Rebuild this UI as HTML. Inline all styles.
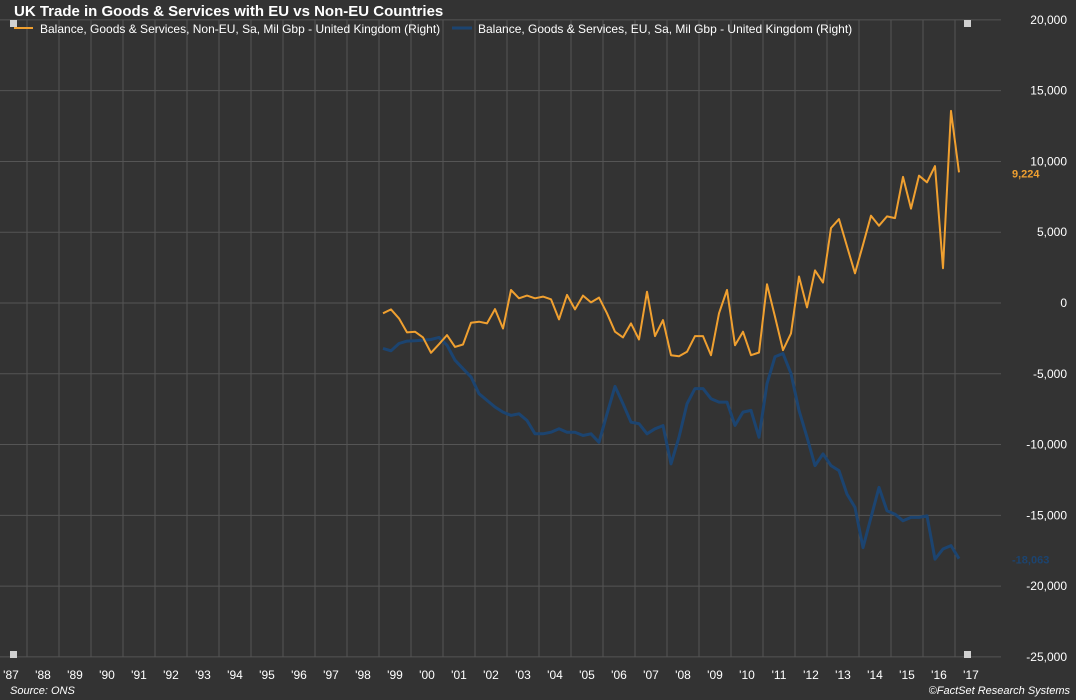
<!DOCTYPE html>
<html><head><meta charset="utf-8"><style>
html,body{margin:0;padding:0;background:#333333;}
svg{display:block;font-family:"Liberation Sans",Arial,sans-serif;}
</style></head><body>
<svg id="chart" width="1076" height="700" viewBox="0 0 1076 700">
<rect x="0" y="0" width="1076" height="700" fill="#333333"/>
<g id="grid"></g>
<g id="series"></g>
<g id="axes"></g>
<text x="14" y="16" fill="#ffffff" font-size="15" font-weight="bold">UK Trade in Goods &amp; Services with EU vs Non-EU Countries</text>
<g>
<g>
<line x1="14" y1="28" x2="33" y2="28" stroke="#f0a030" stroke-width="2"/>
<text x="40" y="33" fill="#ffffff" font-size="12">Balance, Goods &amp; Services, Non-EU, Sa, Mil Gbp - United Kingdom (Right)</text>
</g>
<g>
<line x1="452" y1="28" x2="472" y2="28" stroke="#1c4470" stroke-width="3"/>
<text x="478" y="33" fill="#ffffff" font-size="12">Balance, Goods &amp; Services, EU, Sa, Mil Gbp - United Kingdom (Right)</text>
</g>
</g>
<rect x="10" y="20" width="7" height="7" fill="#d0d0d0"/>
<rect x="964" y="20" width="7" height="7" fill="#d0d0d0"/>
<rect x="964" y="651" width="7" height="7" fill="#d0d0d0"/>
<rect x="10" y="651" width="7" height="7" fill="#d0d0d0"/>
<text x="10" y="694" fill="#ffffff" font-size="11" font-style="italic">Source: ONS</text>
<text x="1070" y="694" fill="#ffffff" font-size="11" font-style="italic" text-anchor="end">©FactSet Research Systems</text>
</svg>
<script>
const years = ["'87","'88","'89","'90","'91","'92","'93","'94","'95","'96","'97","'98","'99","'00","'01","'02","'03","'04","'05","'06","'07","'08","'09","'10","'11","'12","'13","'14","'15","'16","'17"];
const yTicks = [20000,15000,10000,5000,0,-5000,-10000,-15000,-20000,-25000];
const yTickLabels = ["20,000","15,000","10,000","5,000","0","-5,000","-10,000","-15,000","-20,000","-25,000"];
const startYear = 1999;
const nonEU = [-730,-450,-1090,-2080,-2030,-2430,-3520,-2910,-2270,-3100,-2930,-1400,-1320,-1440,-430,-1800,920,330,520,330,450,260,-1160,570,-450,520,40,380,-730,-2030,-2430,-1440,-2580,800,-2340,-1210,-3690,-3760,-3450,-2340,-2340,-3690,-730,920,-2980,-2030,-3690,-3500,1320,-970,-3330,-2150,1870,-310,2300,1440,5300,5930,4000,2100,4110,6170,5460,6120,6000,8910,6670,9000,8530,9670,2460,13570,9224];
const eu = [-3210,-3380,-2860,-2690,-2670,-2620,-2580,-2430,-2980,-4040,-4640,-5220,-6410,-6880,-7350,-7710,-7940,-7830,-8300,-9240,-9240,-9130,-8890,-9130,-9130,-9360,-9240,-9840,-7830,-5890,-7120,-8420,-8530,-9240,-8890,-8660,-11370,-9480,-7120,-6050,-6050,-6760,-7000,-7000,-8650,-7710,-7590,-9480,-5700,-3800,-3570,-4990,-7590,-9480,-11490,-10660,-11490,-11840,-13500,-14440,-17280,-15150,-13030,-14680,-14920,-15390,-15150,-15150,-15040,-18100,-17380,-17140,-18063];
const lastNonEULabel = "9,224";
const lastEULabel = "-18,063";

const NS = "http://www.w3.org/2000/svg";
const X0 = -5, YW = 32, PL = 0, PR = 1001;
const xYear = y => X0 + (y - 1987) * YW;
const xQ = i => xYear(startYear) + (i + 0.5) * YW / 4;
const yV = v => 303 - v * 0.014155;
function mk(tag, attrs, parent){const e=document.createElementNS(NS,tag);for(const k in attrs)e.setAttribute(k,attrs[k]);parent.appendChild(e);return e;}
const grid = document.getElementById('grid'), axes = document.getElementById('axes'), series = document.getElementById('series');
yTicks.forEach((v,i)=>{
  const l = mk('line',{x1:PL,x2:PR,y1:yV(v),y2:yV(v),stroke:'#555555','stroke-width':1},grid);
  
  
  const t = mk('text',{x:1067,y:yV(v)+4,fill:'#ffffff','font-size':12,'text-anchor':'end'},axes);
  t.textContent = yTickLabels[i];
  
  
});
years.forEach((lab,i)=>{
  const gx = xYear(1987+i+1);
  if (i < years.length-1) {
    const l = mk('line',{x1:gx,x2:gx,y1:yV(20000),y2:yV(-25000),stroke:'#555555','stroke-width':1},grid);
    
    
  }
  const t = mk('text',{x:xYear(1987+i)+YW/2,y:679,fill:'#ffffff','font-size':12,'text-anchor':'middle'},axes);
  t.textContent = lab;
  
  
});
function line(data,color,w,name){
  const d = data.map((v,i)=>(i?'L':'M')+xQ(i).toFixed(1)+' '+yV(v).toFixed(1)).join(' ');
  const p = mk('path',{d:d,fill:'none',stroke:color,'stroke-width':w,'stroke-linejoin':'round'},series);
  
  
}
line(eu,'#1c4470',3,'eu-balance-line');
line(nonEU,'#f0a030',2,'non-eu-balance-line');
const t1 = mk('text',{x:1012,y:yV(nonEU[nonEU.length-1])+5,fill:'#f0a030','font-size':11,'font-weight':'bold'},axes);
t1.textContent = lastNonEULabel;


const t2 = mk('text',{x:1012,y:yV(eu[eu.length-1])+5,fill:'#1c4470','font-size':11,'font-weight':'bold'},axes);
t2.textContent = lastEULabel;


</script>
</body></html>
